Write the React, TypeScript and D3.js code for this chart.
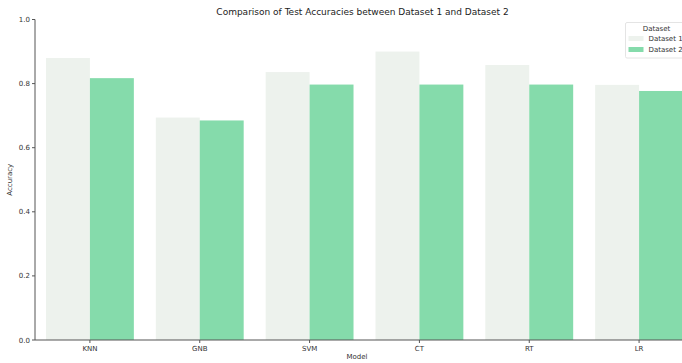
import React from "react";
import * as d3 from "d3";

const models = ["KNN", "GNB", "SVM", "CT", "RT", "LR"];
const datasets = ["Dataset 1", "Dataset 2"];
const dataset1 = [0.88, 0.694, 0.836, 0.9, 0.858, 0.796];
const dataset2 = [0.817, 0.685, 0.797, 0.797, 0.797, 0.777];
const yTicks = [0, 0.2, 0.4, 0.6, 0.8, 1.0];
const colors = ["#edf2ed", "#85dbab"];

const W = 682;
const H = 363;
const left = 35;
const right = 694;
const top = 19.5;
const bottom = 340;
const font = "DejaVu Sans, sans-serif";
const axisColor = "#555";

export default function App() {
  const x = d3.scaleBand<string>().domain(models).range([left, right]).paddingInner(0.2).paddingOuter(0.1);
  const inner = d3.scaleBand<string>().domain(datasets).range([0, x.bandwidth()]);
  const y = d3.scaleLinear().domain([0, 1]).range([bottom, top]);
  const series = [dataset1, dataset2];

  return (
    <svg width={W} height={H} style={{ position: "absolute", left: 0, top: 0, background: "#fff" }} fontFamily={font}>
      <text x={(left + right) / 2 - 2} y={15} textAnchor="middle" fontSize={9} fill="#222">
        Comparison of Test Accuracies between Dataset 1 and Dataset 2
      </text>
      {models.map((m, i) =>
        series.map((s, j) => (
          <rect
            key={m + j}
            x={(x(m) ?? 0) + (inner(datasets[j]) ?? 0)}
            y={y(s[i])}
            width={inner.bandwidth()}
            height={bottom - y(s[i])}
            fill={colors[j]}
          />
        ))
      )}
      <line x1={left} x2={left} y1={top} y2={bottom} stroke={axisColor} strokeWidth={1} />
      <line x1={left} x2={right} y1={bottom} y2={bottom} stroke={axisColor} strokeWidth={1} />
      {yTicks.map((t) => (
        <g key={t}>
          <line x1={left - 3} x2={left} y1={y(t)} y2={y(t)} stroke={axisColor} />
          <text x={left - 5} y={y(t) + 2.5} textAnchor="end" fontSize={7} fill="#333">
            {t.toFixed(1)}
          </text>
        </g>
      ))}
      {models.map((m) => {
        const cx = (x(m) ?? 0) + x.bandwidth() / 2;
        return (
          <g key={m}>
            <line x1={cx} x2={cx} y1={bottom} y2={bottom + 3} stroke={axisColor} />
            <text x={cx} y={bottom + 10.5} textAnchor="middle" fontSize={7} fill="#333">
              {m}
            </text>
          </g>
        );
      })}
      <text x={357} y={359} textAnchor="middle" fontSize={7} fill="#333">
        Model
      </text>
      <text transform={`translate(12,${(top + bottom) / 2}) rotate(-90)`} textAnchor="middle" fontSize={7} fill="#333">
        Accuracy
      </text>
      <g transform="translate(625.5,22.5)">
        <rect x={0} y={0} width={70} height={35.5} rx={1.5} fill="#fff" fillOpacity={0.85} stroke="#ddd" strokeWidth={0.8} />
        <text x={31} y={8.5} textAnchor="middle" fontSize={7} fill="#333">
          Dataset
        </text>
        {datasets.map((d, j) => (
          <g key={d} transform={`translate(0,${16 + j * 11})`}>
            <rect x={3} y={-2.5} width={15} height={5} fill={colors[j]} />
            <text x={23} y={2.5} fontSize={7} fill="#333">
              {d}
            </text>
          </g>
        ))}
      </g>
    </svg>
  );
}
